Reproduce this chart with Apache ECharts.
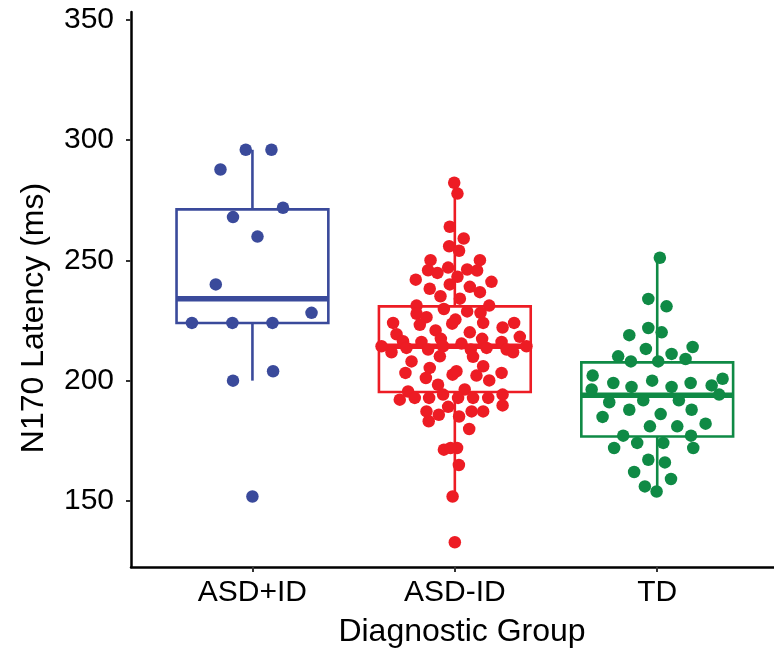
<!DOCTYPE html>
<html>
<head>
<meta charset="utf-8">
<script src="https://cdn.jsdelivr.net/npm/echarts@6/dist/echarts.min.js"></script>
<style>
  html, body { margin: 0; padding: 0; background: #fff; }
  #chart { width: 774px; height: 658px; }
</style>
</head>
<body>
<div id="chart"></div>
<script>
// groups and y ticks
const groups = ['ASD+ID', 'ASD-ID', 'TD'];
const groupColors = ['#3a4a9b', '#ed1c24', '#0f8a45'];
const yTicks = [150, 200, 250, 300, 350];

// box stats: [lower whisker, Q1, median, Q3, upper whisker]
const boxAsdPlusId = [200, 224, 234.1, 271.2, 296];
const boxAsdMinusId = [151.8, 195.3, 214.3, 230.9, 282.3];
const boxTd = [153.9, 176.8, 193.9, 207.6, 251.1];

// outliers (group index, value)
const outlierGroups = [1, 2];
const outlierValues = [151.8, 132.8];

// jittered points: horizontal offset from the group centre, and latency (ms)
const asdPlusIdJitter = [-0.033, 0.094, -0.158, 0.151, -0.096, 0.025, -0.181, 0.292, -0.299, -0.099, 0.099, -0.096, 0.102];
const asdPlusIdValues = [296, 296, 287.8, 271.9, 268.0, 259.9, 240.0, 228.2, 224.0, 224.0, 224.0, 200.0, 203.9];

const asdMinusIdJitter = [
  -0.003, 0.013, -0.025, 0.044, -0.028, 0.021, -0.120, 0.124, -0.033, -0.132,
  -0.086, 0.061, 0.110, -0.193, 0.013, 0.181, -0.025, 0.074, -0.124, 0.124,
  -0.071, 0.025, -0.189, -0.054, 0.170, 0.061, -0.189, -0.140, 0.127, 0.003,
  -0.305, -0.173, -0.013, 0.140, 0.293, 0.236, -0.095, 0.074, -0.288, 0.321,
  -0.256, -0.069, 0.135, -0.362, -0.165, -0.313, -0.239, -0.132, -0.058, 0.033,
  0.079, 0.157, 0.231, 0.256, 0.354, 0.288, -0.214, -0.074, 0.090, -0.244,
  -0.124, -0.143, -0.011, 0.008, 0.140, 0.107, 0.231, 0.170, -0.083, -0.231,
  0.049, -0.272, -0.198, -0.127, -0.058, 0.016, 0.090, 0.165, 0.236, 0.236,
  -0.033, -0.140, -0.079, 0.021, 0.083, 0.140, -0.129, 0.071, -0.054, 0.011,
  -0.021, 0.020, -0.011
];
const asdMinusIdValues = [
  282.3, 277.8, 264.0, 259.1, 255.9, 254.0, 250.1, 250.1, 247.0, 245.9,
  244.8, 246.2, 245.8, 242.0, 243.2, 241.1, 240.0, 239.0, 238.2, 236.8,
  235.1, 234.1, 231.2, 229.8, 231.2, 228.8, 227.8, 226.4, 228.2, 225.4,
  224.0, 223.2, 223.7, 224.0, 224.0, 222.1, 220.9, 220.1, 219.3, 218.2,
  216.4, 217.4, 217.4, 214.3, 216.1, 211.8, 213.6, 212.9, 214.3, 215.4,
  212.9, 213.6, 216.1, 212.9, 214.3, 211.8, 208.0, 210.1, 209.9, 203.2,
  205.3, 201.1, 202.5, 203.9, 206.0, 202.1, 203.2, 200.1, 198.3, 195.5,
  196.3, 192.1, 192.8, 192.8, 194.2, 192.8, 192.8, 192.8, 194.2, 189.7,
  189.1, 187.2, 185.8, 185.1, 187.2, 187.2, 183.1, 179.9, 171.3, 172.0,
  172.0, 164.9, 151.8
];

const tdJitter = [
  0.013, -0.044, 0.046, -0.044, 0.022, -0.138, -0.056, 0.175, -0.193, 0.071,
  -0.130, 0.005, 0.140, -0.319, -0.217, -0.127, -0.025, 0.071, 0.165, 0.269,
  0.323, -0.324, 0.306, -0.237, -0.069, 0.107, -0.138, 0.170, -0.270, 0.017,
  -0.036, 0.099, 0.239, -0.168, 0.167, -0.099, 0.030, -0.213, 0.178, -0.044,
  0.038, -0.114, 0.068, -0.061, -0.003
];
const tdValues = [
  251.1, 234.0, 230.9, 221.9, 220.1, 218.9, 213.2, 214.0, 210.1, 211.1,
  208.0, 208.0, 209.0, 202.1, 199.0, 197.4, 200.0, 197.4, 199.0, 198.0,
  200.8, 196.3, 194.2, 191.0, 191.8, 191.8, 187.9, 187.9, 184.9, 186.1,
  181.0, 181.0, 182.1, 177.1, 177.1, 174.1, 174.1, 172.0, 172.0, 167.1,
  166.0, 162.0, 159.1, 156.0, 153.9
];

const font = '"Liberation Sans", Arial, Helvetica, sans-serif';

function points(groupNo, jitter, values) {
  return values.map((v, i) => [groupNo + jitter[i], v]);
}

const boxData = [boxAsdPlusId, boxAsdMinusId, boxTd].map((b, i) => [i + 1].concat(b));

function renderBox(params, api) {
  const x = api.value(0);
  const lo = api.value(1), q1 = api.value(2), med = api.value(3), q3 = api.value(4), hi = api.value(5);
  const halfW = 0.375;
  const color = groupColors[params.dataIndex];
  const tl = api.coord([x - halfW, q3]);
  const br = api.coord([x + halfW, q1]);
  const top = api.coord([x, hi]);
  const bottom = api.coord([x, lo]);
  const mL = api.coord([x - halfW, med]);
  const mR = api.coord([x + halfW, med]);
  const stroke = { stroke: color, lineWidth: 2.6, fill: null };
  return {
    type: 'group',
    children: [
      { type: 'line', shape: { x1: top[0], y1: top[1], x2: top[0], y2: tl[1] }, style: stroke },
      { type: 'line', shape: { x1: bottom[0], y1: br[1], x2: bottom[0], y2: bottom[1] }, style: stroke },
      { type: 'rect', shape: { x: tl[0], y: tl[1], width: br[0] - tl[0], height: br[1] - tl[1] },
        style: { stroke: color, lineWidth: 2.6, fill: '#fff' } },
      { type: 'line', shape: { x1: mL[0], y1: mL[1], x2: mR[0], y2: mR[1] },
        style: { stroke: color, lineWidth: 5.5 } }
    ]
  };
}

let chart = echarts.init(document.getElementById('chart'));
chart.setOption({
  animation: false,
  backgroundColor: '#fff',
  grid: { left: 131, right: 0, top: 12, bottom: 91 },
  xAxis: {
    type: 'value',
    min: 0.4,
    max: 3.577,
    splitLine: { show: false },
    axisLine: { show: true, lineStyle: { color: '#000', width: 2.5 } },
    axisTick: { show: true, customValues: [1, 2, 3], length: 5, lineStyle: { color: '#333', width: 2 } },
    axisLabel: {
      customValues: [1, 2, 3],
      formatter: v => groups[Math.round(v) - 1],
      margin: 11,
      color: '#000',
      fontSize: 30,
      fontFamily: font
    }
  },
  yAxis: {
    type: 'value',
    min: 122.5,
    max: 353.3,
    splitLine: { show: false },
    axisLine: { show: true, lineStyle: { color: '#000', width: 2.5 } },
    axisTick: { show: true, customValues: yTicks, length: 5, lineStyle: { color: '#333', width: 2 } },
    axisLabel: {
      customValues: yTicks,
      margin: 17,
      color: '#000',
      fontSize: 30,
      fontFamily: font
    }
  },
  graphic: [
    {
      type: 'text', x: 462, y: 632,
      style: { text: 'Diagnostic Group', font: '32px ' + font, fill: '#000',
        textAlign: 'center', textVerticalAlign: 'middle' }
    },
    {
      type: 'text', x: 34, y: 318, rotation: Math.PI / 2,
      style: { text: 'N170 Latency (ms)', font: '32px ' + font, fill: '#000',
        textAlign: 'center', textVerticalAlign: 'middle' }
    }
  ],
  series: [
    {
      type: 'custom',
      renderItem: renderBox,
      data: boxData,
      encode: { x: 0, y: [1, 2, 3, 4, 5] },
      z: 1
    },
    {
      type: 'scatter',
      symbolSize: 12.5,
      itemStyle: { color: groupColors[0], opacity: 1 },
      data: points(1, asdPlusIdJitter, asdPlusIdValues),
      z: 3
    },
    {
      type: 'scatter',
      symbolSize: 12.5,
      itemStyle: { color: groupColors[1], opacity: 1 },
      data: points(2, asdMinusIdJitter, asdMinusIdValues),
      z: 3
    },
    {
      type: 'scatter',
      symbolSize: 12.5,
      itemStyle: { color: groupColors[2], opacity: 1 },
      data: points(3, tdJitter, tdValues),
      z: 3
    },
    {
      type: 'scatter',
      symbolSize: 12.5,
      itemStyle: { color: p => groupColors[p.value[0] - 1], opacity: 1 },
      data: outlierGroups.map((g, i) => [g, outlierValues[i]]),
      z: 3
    }
  ]
});
</script>
</body>
</html>
